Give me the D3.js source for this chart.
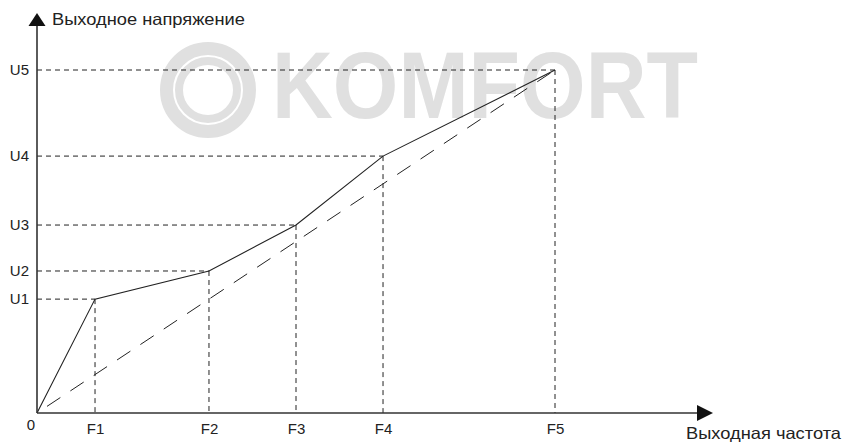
<!DOCTYPE html>
<html>
<head>
<meta charset="utf-8">
<script src="https://cdn.jsdelivr.net/npm/d3@7"></script>
<style>
html,body{margin:0;padding:0;background:#fff;}
svg{display:block;}
text{font-family:"Liberation Sans",Arial,sans-serif;fill:#222;}
</style>
</head>
<body>
<svg id="chart" width="844" height="442"></svg>
<script>
// Data
const freqLabels = ["F1","F2","F3","F4","F5"];
const freqValues = [11.2, 33.2, 50.0, 66.8, 100];
const voltLabels = ["U1","U2","U3","U4","U5"];
const voltValues = [33.2, 41.4, 54.8, 74.9, 100];
const xAxisMax = 130.5;
const yAxisMax = 116.6;
const xTitle = "Выходная частота";
const yTitle = "Выходное напряжение";
const watermark = "KOMFORT";

const svg = d3.select("#chart");
const x = d3.scaleLinear().domain([0,100]).range([37,555]);
const y = d3.scaleLinear().domain([0,100]).range([413,70]);
const ink = "#222";
const wmColor = "#e0e0e0";

// watermark
const wm = svg.append("g").attr("fill","none").attr("stroke",wmColor);
wm.append("circle").attr("cx",208).attr("cy",90).attr("r",41.5).attr("stroke-width",13);
wm.append("circle").attr("cx",208).attr("cy",90).attr("r",29).attr("stroke-width",8);
svg.append("text").attr("x",272).attr("y",118)
  .attr("textLength",426).attr("lengthAdjust","spacingAndGlyphs")
  .style("font-family","'Liberation Sans',Arial,sans-serif")
  .style("font-weight","bold").style("font-size","94px").style("fill",wmColor)
  .text(watermark);

const pts = freqValues.map((f,i)=>({f, u: voltValues[i]}));

// guide lines
const guides = svg.append("g").attr("stroke",ink).attr("stroke-width",1).attr("stroke-dasharray","5,4").attr("fill","none");
pts.forEach(p=>{
  guides.append("line").attr("x1",x(0)).attr("y1",y(p.u)).attr("x2",x(p.f)).attr("y2",y(p.u));
  guides.append("line").attr("x1",x(p.f)).attr("y1",y(p.u)).attr("x2",x(p.f)).attr("y2",y(0));
});

// linear dashed reference
svg.append("line").attr("x1",x(0)).attr("y1",y(0)).attr("x2",x(100)).attr("y2",y(100))
  .attr("stroke",ink).attr("stroke-width",1).attr("stroke-dasharray","16,12").attr("stroke-dashoffset",-12);

// solid V/F curve
const line = d3.line().x(d=>x(d.f)).y(d=>y(d.u));
svg.append("path").datum([{f:0,u:0}].concat(pts)).attr("d",line)
  .attr("fill","none").attr("stroke",ink).attr("stroke-width",1.1);

// axes lines with arrows
svg.append("line").attr("x1",x(0)).attr("y1",y(0)).attr("x2",x(xAxisMax)-16).attr("y2",y(0))
  .attr("stroke","#333").attr("stroke-width",1.6);
svg.append("line").attr("x1",x(0)).attr("y1",y(0)).attr("x2",x(0)).attr("y2",y(yAxisMax)+13)
  .attr("stroke","#333").attr("stroke-width",1.6);
const xe = x(xAxisMax), ye = y(yAxisMax);
svg.append("path").attr("d",`M${xe},${y(0)} L${xe-16},${y(0)-8} L${xe-16},${y(0)+8} Z`).attr("fill","#111");
svg.append("path").attr("d",`M${x(0)},${ye} L${x(0)-8.5},${ye+13} L${x(0)+8.5},${ye+13} Z`).attr("fill","#111");

// tick labels via axes
const xAx = svg.append("g").attr("transform",`translate(0,${y(0)})`)
  .call(d3.axisBottom(x).tickValues(freqValues).tickFormat((d,i)=>freqLabels[i]).tickSize(0).tickPadding(10));
const yAx = svg.append("g").attr("transform",`translate(${x(0)},0)`)
  .call(d3.axisLeft(y).tickValues(voltValues).tickFormat((d,i)=>voltLabels[i]).tickSize(0).tickPadding(8));
[xAx,yAx].forEach(a=>{
  a.select(".domain").remove();
  a.selectAll("text").style("font-family","'Liberation Sans',Arial,sans-serif").style("font-size","15px").attr("fill",ink);
});

svg.append("text").attr("x",x(0)-6).attr("y",y(0)+17).attr("text-anchor","middle").style("font-size","15px").text("0");

// titles
svg.append("text").attr("x",52).attr("y",25).attr("textLength",193).attr("lengthAdjust","spacingAndGlyphs")
  .style("font-size","16.5px").text(yTitle);
svg.append("text").attr("x",686).attr("y",439).attr("textLength",155).attr("lengthAdjust","spacingAndGlyphs")
  .style("font-size","16.5px").text(xTitle);
</script>
</body>
</html>
